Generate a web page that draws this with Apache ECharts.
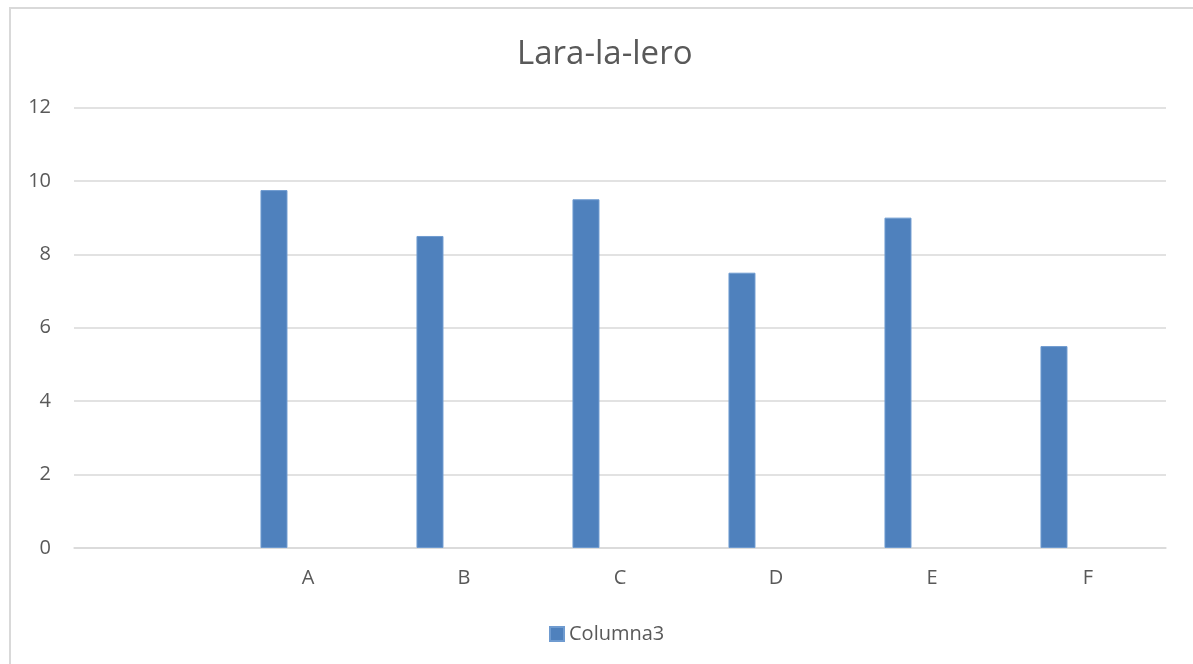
<!DOCTYPE html>
<html>
<head>
<meta charset="utf-8">
<script src="https://cdn.jsdelivr.net/npm/echarts@6/dist/echarts.min.js"></script>
<style>
html,body{margin:0;padding:0;background:#fff;}
#chart{width:1193px;height:664px;}
</style>
</head>
<body>
<div id="chart"></div>
<script>
var categories = ['', 'A', 'B', 'C', 'D', 'E', 'F'];
var columna3 = [null, 9.75, 8.5, 9.5, 7.5, 9, 5.5];
var spacer = [null, null, null, null, null, null, null];
var yTicks = [0, 2, 4, 6, 8, 10, 12];

var chart = echarts.init(document.getElementById('chart'));
chart.setOption({
  backgroundColor: '#fff',
  animation: false,
  textStyle: { fontFamily: 'Open Sans' },
  graphic: [{
    type: 'rect',
    shape: { x: 10, y: 8, width: 1400, height: 900 },
    style: { fill: 'none', stroke: '#d9d9d9', lineWidth: 2 },
    silent: true
  }],
  title: {
    text: 'Lara-la-lero',
    left: 512,
    top: 33,
    textStyle: { fontFamily: 'Open Sans', fontSize: 33, fontWeight: 'normal', color: '#595959' }
  },
  legend: {
    data: ['Columna3'],
    bottom: 15,
    left: 544,
    itemWidth: 14,
    itemHeight: 14,
    icon: 'rect',
    textStyle: { fontFamily: 'Open Sans', fontSize: 20, color: '#595959' }
  },
  grid: { left: 74, right: 27, top: 107.5, bottom: 116, containLabel: false },
  xAxis: {
    type: 'category',
    data: categories,
    axisLine: { show: true, lineStyle: { color: '#d9d9d9', width: 1.5 } },
    axisTick: { show: false },
    axisLabel: { color: '#595959', fontSize: 20, margin: 20, fontFamily: 'Open Sans' }
  },
  yAxis: {
    type: 'value',
    min: yTicks[0],
    max: yTicks[yTicks.length - 1],
    interval: 2,
    axisLine: { show: false },
    axisTick: { show: false },
    splitLine: { lineStyle: { color: '#d9d9d9', width: 1.5 } },
    axisLabel: { color: '#595959', fontSize: 20, margin: 23, fontFamily: 'Open Sans' }
  },
  series: [{
    name: 'Columna3',
    type: 'bar',
    data: columna3,
    barWidth: 27,
    barGap: '152%',
    itemStyle: { color: '#4f81bd', borderColor: '#6f9bd0', borderWidth: 1 }
  }, {
    name: 'spacer',
    type: 'bar',
    data: spacer,
    barWidth: 27,
    barGap: '152%',
    itemStyle: { color: 'transparent' },
    silent: true
  }]
});
</script>
</body>
</html>
